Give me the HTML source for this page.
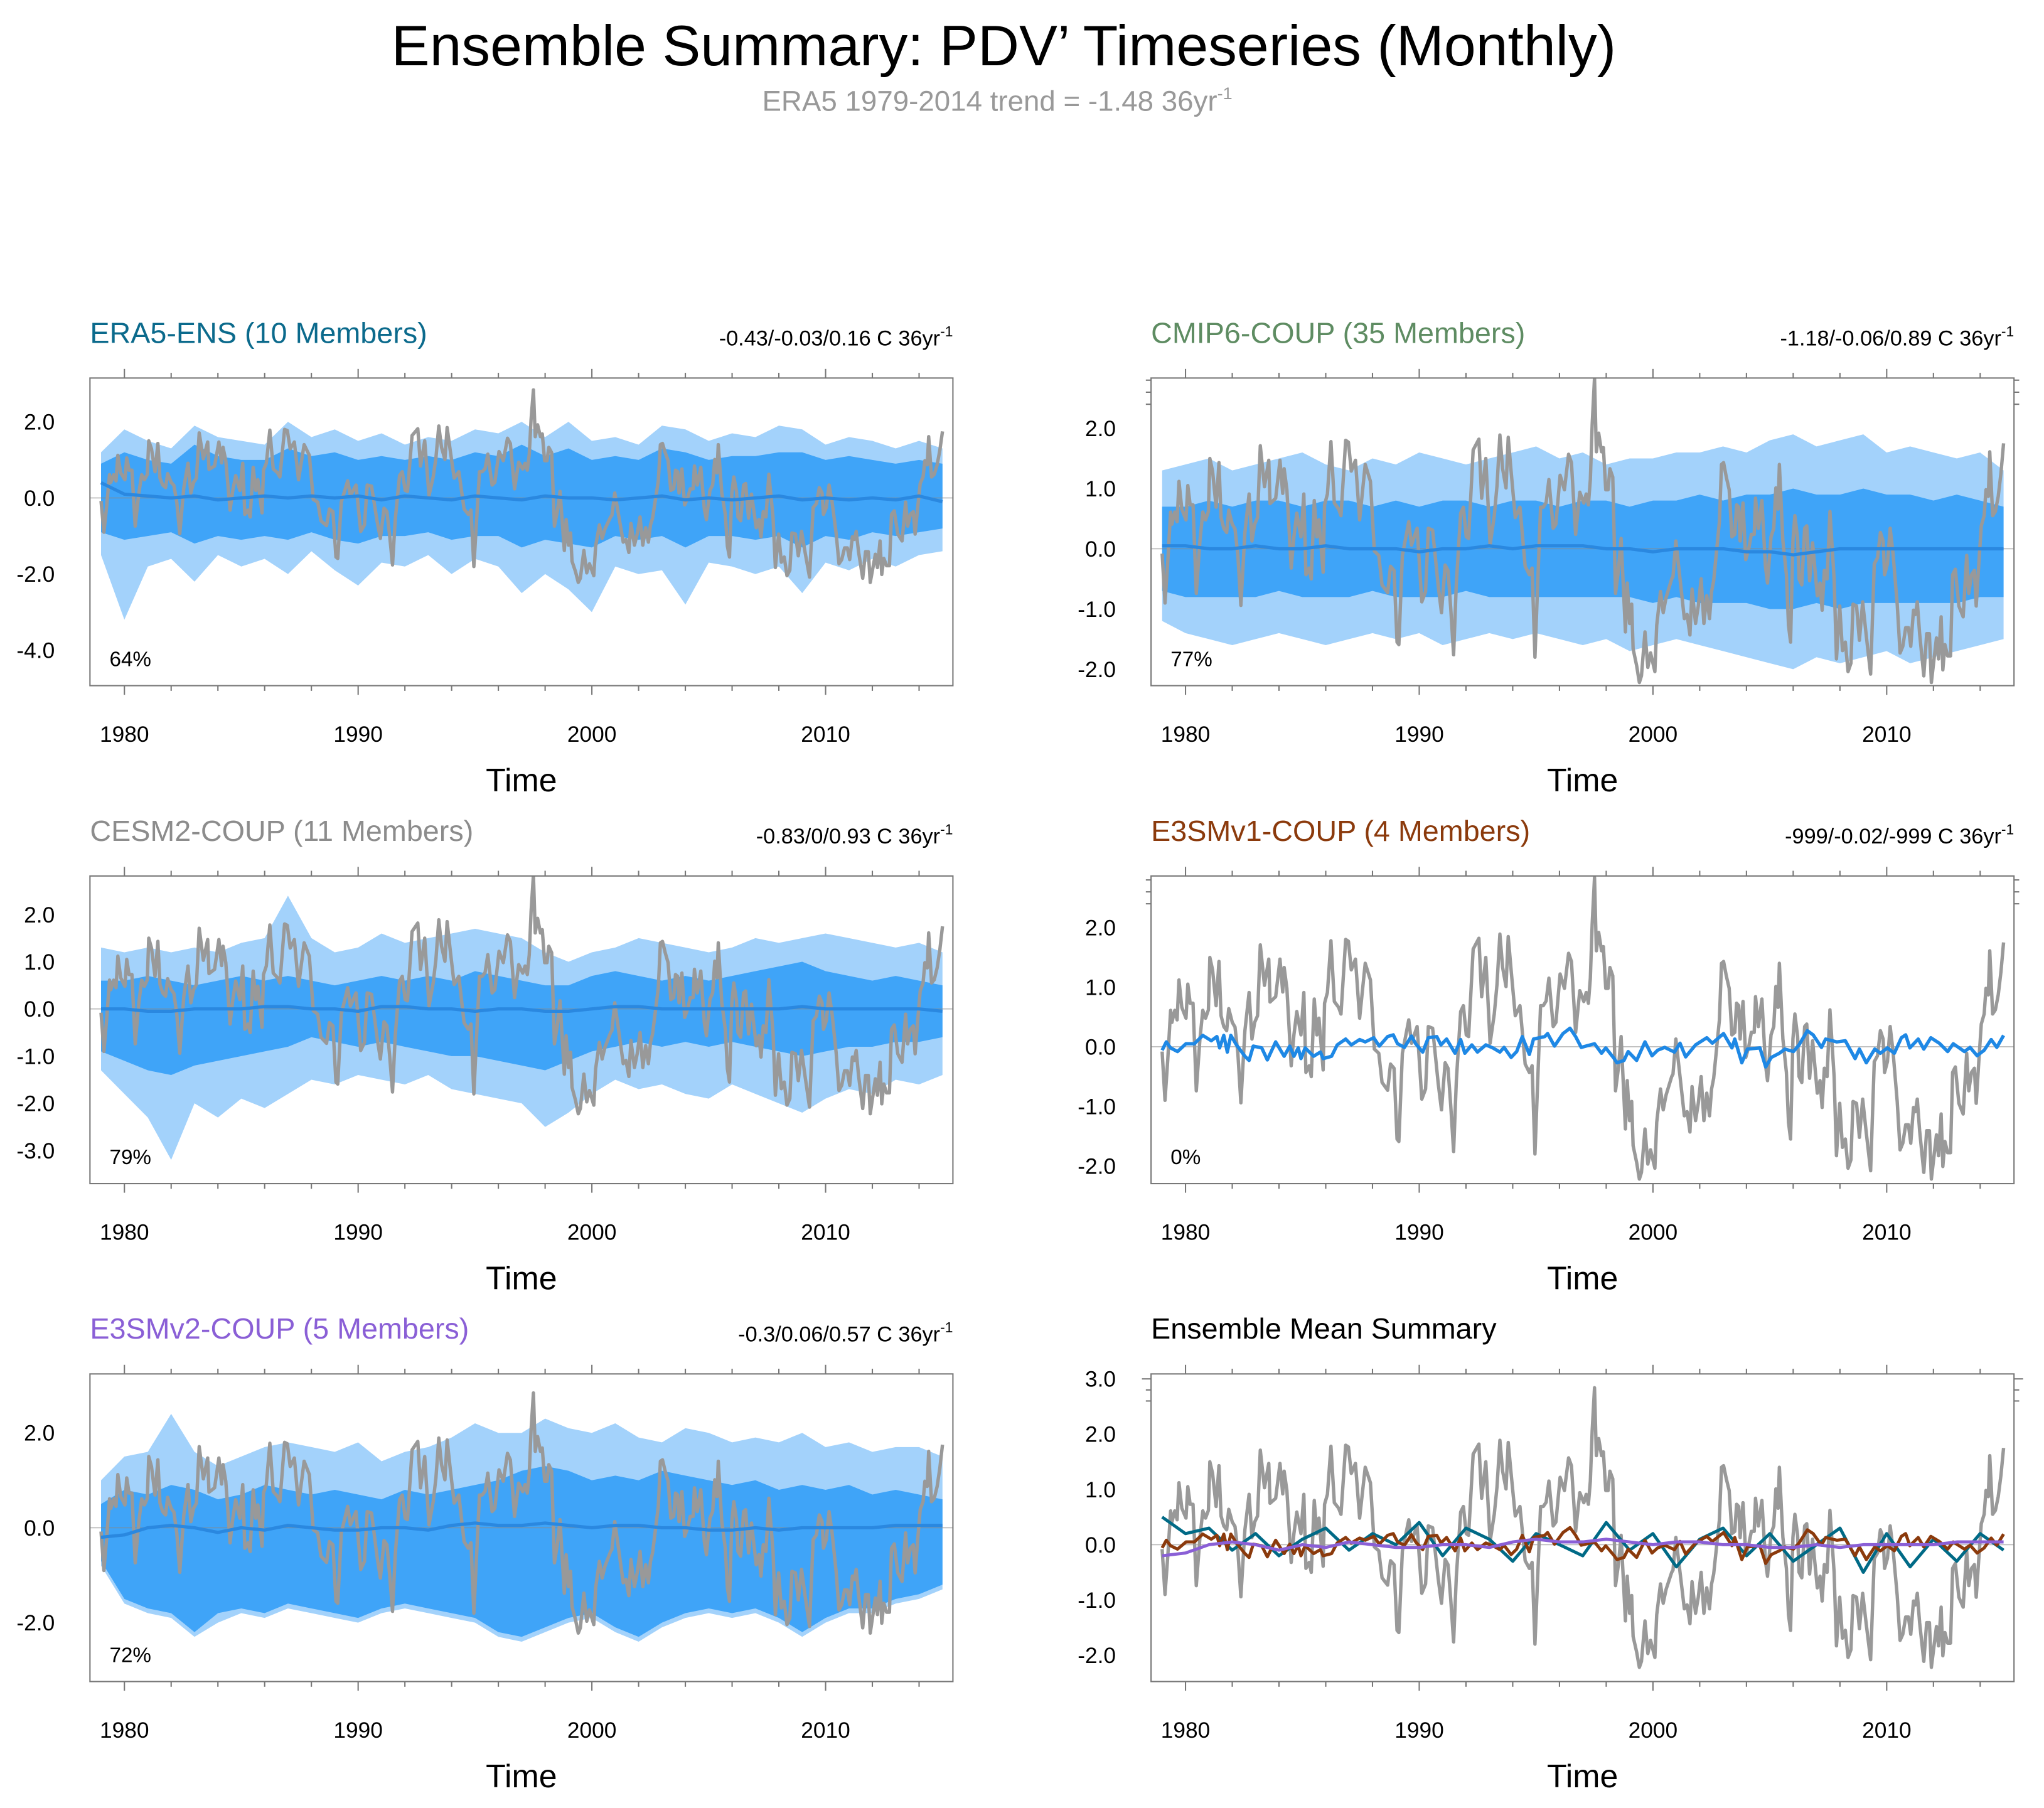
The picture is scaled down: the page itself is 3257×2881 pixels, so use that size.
<!DOCTYPE html>
<html><head><meta charset="utf-8"><style>html,body{margin:0;padding:0;background:#fff}svg{display:block}</style></head>
<body>
<svg id="fig" xmlns="http://www.w3.org/2000/svg" width="3257" height="2881" viewBox="0 0 1568 1387" font-family="Liberation Sans, Arial, sans-serif">
<rect width="1568" height="1387" fill="#fff"/>
<text x="770" y="50" font-size="44" text-anchor="middle">Ensemble Summary: PDV’ Timeseries (Monthly)</text>
<text x="765" y="85" font-size="22" fill="#999" text-anchor="middle">ERA5 1979-2014 trend = -1.48 36yr<tspan dy="-9" font-size="13">-1</tspan></text>
</svg>
<script>
// Observed ERA5 PDV series (years, values)
const obsYears=[1979.00,1979.12,1979.24,1979.36,1979.42,1979.54,1979.64,1979.72,1979.84,1980.02,1980.10,1980.20,1980.32,1980.46,1980.62,1980.74,1980.86,1980.98,1981.04,1981.16,1981.31,1981.43,1981.52,1981.64,1981.76,1981.85,1982.00,1982.12,1982.24,1982.37,1982.54,1982.72,1982.84,1982.96,1983.08,1983.20,1983.38,1983.56,1983.62,1983.86,1984.04,1984.16,1984.22,1984.34,1984.52,1984.64,1984.76,1984.94,1985.06,1985.15,1985.29,1985.38,1985.51,1985.62,1985.71,1985.89,1985.95,1986.07,1986.22,1986.37,1986.55,1986.65,1986.85,1986.97,1987.09,1987.27,1987.45,1987.69,1987.91,1988.08,1988.27,1988.41,1988.65,1988.77,1988.92,1989.05,1989.13,1989.28,1989.55,1989.67,1989.91,1990.11,1990.27,1990.39,1990.57,1990.81,1990.95,1991.11,1991.23,1991.35,1991.47,1991.59,1991.77,1991.89,1992.01,1992.11,1992.31,1992.55,1992.67,1992.85,1993.03,1993.21,1993.33,1993.45,1993.57,1993.71,1993.81,1993.93,1994.11,1994.31,1994.53,1994.71,1994.83,1994.95,1995.19,1995.31,1995.43,1995.55,1995.73,1995.85,1996.03,1996.21,1996.39,1996.51,1996.69,1996.87,1997.04,1997.14,1997.24,1997.32,1997.40,1997.50,1997.58,1997.68,1997.80,1997.88,1997.98,1998.08,1998.16,1998.28,1998.40,1998.52,1998.64,1998.82,1998.90,1999.00,1999.09,1999.15,1999.30,1999.42,1999.51,1999.66,1999.78,1999.90,2000.08,2000.16,2000.32,2000.44,2000.56,2000.80,2000.86,2000.98,2001.16,2001.34,2001.46,2001.58,2001.67,2001.82,2001.94,2002.06,2002.18,2002.30,2002.42,2002.51,2002.60,2002.84,2002.93,2003.02,2003.14,2003.26,2003.38,2003.50,2003.58,2003.67,2003.73,2003.85,2003.97,2004.09,2004.21,2004.33,2004.39,2004.51,2004.66,2004.81,2004.90,2005.05,2005.17,2005.26,2005.35,2005.41,2005.56,2005.71,2005.80,2005.89,2005.99,2006.07,2006.19,2006.25,2006.37,2006.49,2006.58,2006.70,2006.83,2007.03,2007.15,2007.24,2007.33,2007.45,2007.57,2007.75,2007.85,2007.99,2008.11,2008.23,2008.35,2008.47,2008.56,2008.71,2008.83,2008.97,2009.13,2009.31,2009.47,2009.61,2009.73,2009.85,2009.91,2010.03,2010.15,2010.27,2010.45,2010.57,2010.69,2010.81,2010.93,2011.03,2011.15,2011.23,2011.31,2011.41,2011.59,2011.71,2011.83,2011.91,2012.13,2012.22,2012.33,2012.40,2012.49,2012.61,2012.73,2012.82,2012.94,2013.09,2013.27,2013.42,2013.51,2013.63,2013.75,2013.83,2013.95,2014.05,2014.17,2014.25,2014.35,2014.41,2014.53,2014.65,2014.77,2014.89,2015.00];
const obsValues=[-0.08,-0.90,-0.22,0.61,0.41,0.61,0.45,1.12,0.66,0.48,1.05,0.73,0.73,-0.74,0.13,0.61,0.48,0.62,1.50,1.29,0.69,1.43,0.52,0.34,0.27,0.64,0.41,0.33,-0.11,-0.94,0.27,0.91,0.13,0.41,0.52,1.71,1.03,1.47,0.75,0.84,1.47,0.92,1.33,0.98,-0.32,0.20,0.59,0.20,0.91,-0.43,-0.32,-0.50,0.80,0.20,0.48,-0.39,0.73,0.91,1.78,0.76,0.66,0.55,1.80,1.77,1.29,1.47,0.48,1.40,1.12,-0.04,-0.11,-0.60,-0.73,-0.29,-0.36,-1.55,-1.59,-0.11,0.45,0.06,0.34,-0.88,-0.71,0.34,0.31,-0.62,-1.06,-0.27,-0.36,-0.99,-1.76,-0.57,0.59,0.69,0.20,0.17,1.64,1.82,0.84,1.50,0.06,0.55,1.05,1.89,1.33,1.01,1.85,1.29,0.52,0.69,-0.29,-0.43,-0.32,-1.80,0.69,0.69,0.77,1.15,0.34,0.41,1.22,0.98,1.57,1.43,0.24,0.94,0.76,0.91,0.73,1.15,2.06,2.84,1.61,1.92,1.61,1.68,0.98,0.98,1.33,1.19,-0.74,-0.36,0.17,-1.38,-0.57,-1.24,-0.92,-1.66,-1.94,-2.22,-2.11,-1.38,-1.97,-1.73,-2.04,-1.27,-0.71,-1.06,-0.81,-0.50,-0.46,0.13,-0.50,-1.16,-1.09,-1.43,-0.67,-1.24,-0.95,-0.50,-1.24,-0.78,-1.16,-0.71,-0.53,0.45,1.40,1.43,1.19,0.98,0.20,0.24,0.73,0.69,0.13,0.76,-0.18,-0.01,0.24,0.24,0.84,0.34,0.80,-0.29,-0.57,0.20,0.34,1.01,0.66,1.40,0.13,-0.43,-1.27,-1.55,0.13,0.55,0.17,-0.50,-0.60,0.34,0.38,-0.53,0.10,-0.78,-0.57,-1.02,-0.36,-0.50,0.62,-0.50,-1.83,-0.95,-1.69,-1.55,-2.04,-1.90,-0.92,-0.95,-1.52,-0.88,-1.45,-2.08,-0.25,-0.15,0.27,0.13,-0.43,-0.25,0.34,-0.08,-0.92,-1.73,-1.62,-1.31,-1.31,-1.62,-1.02,-1.09,-0.88,-1.41,-2.11,-1.41,-1.41,-2.22,-1.48,-1.83,-1.13,-2.01,-1.59,-1.78,-1.78,-0.43,-0.34,-0.95,-1.13,-0.11,-0.74,-0.43,-0.36,-0.95,-0.18,0.38,0.55,0.98,0.87,1.61,0.55,0.62,0.87,1.26,1.75];

// E3SMv1 ensemble mean
const e3v1Years=[1979.00,1979.18,1979.36,1979.66,1980.02,1980.38,1980.74,1981.10,1981.34,1981.46,1981.64,1981.79,1981.94,1982.18,1982.54,1982.72,1982.90,1983.26,1983.50,1983.86,1984.22,1984.46,1984.64,1984.82,1984.94,1985.12,1985.48,1985.77,1985.89,1986.25,1986.49,1986.85,1987.09,1987.45,1987.69,1988.05,1988.29,1988.65,1988.89,1989.07,1989.37,1989.67,1989.85,1990.15,1990.39,1990.75,1990.93,1991.17,1991.53,1991.77,1991.95,1992.25,1992.49,1992.85,1993.15,1993.45,1993.63,1993.93,1994.17,1994.41,1994.71,1994.89,1995.37,1995.49,1995.79,1996.15,1996.45,1996.69,1996.93,1997.50,1997.80,1997.98,1998.34,1998.46,1998.76,1998.94,1999.30,1999.66,1999.96,2000.20,2000.50,2000.92,2001.16,2001.40,2001.82,2002.30,2002.54,2003.02,2003.38,2003.50,2003.80,2004.04,2004.58,2004.82,2005.06,2005.41,2005.65,2006.01,2006.25,2006.61,2006.85,2007.21,2007.39,2007.87,2008.23,2008.65,2008.83,2009.13,2009.49,2009.73,2010.03,2010.33,2010.63,2010.81,2010.99,2011.35,2011.59,2011.89,2012.25,2012.61,2012.85,2013.33,2013.57,2013.87,2014.17,2014.47,2014.71,2015.00];
const e3v1Values=[-0.06,0.08,-0.02,-0.08,0.05,0.05,0.19,0.10,0.17,-0.02,0.19,-0.09,0.19,0.03,-0.16,-0.23,0.01,-0.02,-0.22,0.08,-0.16,0.01,-0.16,-0.02,-0.20,-0.02,-0.16,-0.09,-0.20,-0.16,0.03,0.13,0.03,0.12,0.08,0.15,0.01,0.17,0.20,0.05,-0.01,0.18,0.05,-0.09,0.15,0.17,0.03,0.13,-0.11,0.12,-0.11,0.03,-0.09,0.03,-0.02,-0.09,-0.01,-0.18,-0.08,0.17,-0.13,0.13,0.17,0.22,0.01,0.22,0.31,0.17,-0.01,0.05,-0.11,-0.02,-0.20,-0.27,-0.23,-0.08,-0.23,0.08,-0.15,-0.06,-0.01,-0.09,0.06,-0.17,0.03,0.15,0.06,0.22,-0.02,0.13,-0.27,-0.04,-0.02,-0.34,-0.18,-0.11,-0.04,-0.08,0.03,0.27,0.20,-0.01,0.13,0.08,0.10,-0.20,-0.04,-0.27,-0.04,-0.11,-0.02,-0.11,0.15,0.20,-0.02,0.13,-0.04,0.15,0.06,-0.08,0.05,-0.08,-0.01,-0.15,-0.06,0.12,-0.01,0.19];

// Yearly band summaries (1979..2015)
const bandYears=[1979,1980,1981,1982,1983,1984,1985,1986,1987,1988,1989,1990,1991,1992,1993,1994,1995,1996,1997,1998,1999,2000,2001,2002,2003,2004,2005,2006,2007,2008,2009,2010,2011,2012,2013,2014,2015];
const eraMax=[1.2,1.8,1.5,1.3,1.9,1.6,1.5,1.4,2.0,1.6,1.8,1.5,1.7,1.4,1.6,1.5,1.8,1.7,2.0,1.6,2.0,1.5,1.6,1.4,1.9,1.8,1.5,1.7,1.6,1.9,1.8,1.4,1.6,1.5,1.3,1.5,1.3];
const eraMin=[-1.5,-3.2,-1.8,-1.6,-2.2,-1.5,-1.8,-1.6,-2.0,-1.4,-1.9,-2.3,-1.7,-1.8,-1.5,-2.0,-1.6,-1.8,-2.5,-2.0,-2.4,-3.0,-1.8,-2.0,-1.9,-2.8,-1.7,-1.8,-2.0,-1.8,-2.5,-1.7,-1.9,-1.6,-1.8,-1.5,-1.4];
const eraHi=[0.9,1.2,1.0,0.9,1.4,1.1,1.0,1.0,1.3,1.1,1.2,1.0,1.1,1.0,1.1,1.0,1.2,1.1,1.4,1.1,1.3,1.0,1.1,1.0,1.3,1.2,1.0,1.1,1.1,1.2,1.2,1.0,1.1,1.0,0.9,1.0,0.9];
const eraLo=[-0.9,-1.1,-1.0,-0.9,-1.2,-1.0,-1.1,-1.0,-1.1,-0.9,-1.1,-1.2,-1.0,-1.0,-0.9,-1.1,-1.0,-1.0,-1.3,-1.1,-1.2,-1.3,-1.0,-1.1,-1.0,-1.3,-1.0,-1.0,-1.1,-1.0,-1.3,-1.0,-1.1,-0.9,-1.0,-0.9,-0.8];
const eraBandMean=[0.4,0.1,0.05,0.0,0.05,-0.05,0.0,0.05,0.0,0.05,0.0,0.05,-0.05,0.05,0.0,-0.05,0.05,0.0,-0.05,0.05,0.0,0.0,-0.05,0.0,0.05,-0.05,0.0,-0.05,0.0,0.05,-0.05,0.0,-0.05,0.0,-0.05,0.05,-0.1];
const eraMean=[0.5,0.2,0.3,-0.1,0.2,-0.2,0.1,0.3,-0.1,0.2,0.0,0.4,-0.2,0.3,0.1,-0.3,0.2,0.0,-0.2,0.4,-0.1,0.2,-0.4,0.1,0.3,-0.2,0.2,-0.3,0.0,0.3,-0.5,0.2,-0.4,0.1,-0.3,0.2,-0.1];

const cmipMax=[1.3,1.4,1.5,1.3,1.4,1.5,1.6,1.4,1.3,1.5,1.4,1.6,1.5,1.4,1.5,1.6,1.7,1.5,1.6,1.4,1.5,1.5,1.6,1.6,1.7,1.6,1.8,1.9,1.7,1.8,1.9,1.6,1.7,1.6,1.5,1.6,1.3];
const cmipMin=[-1.2,-1.4,-1.5,-1.6,-1.5,-1.4,-1.5,-1.6,-1.5,-1.4,-1.5,-1.4,-1.6,-1.5,-1.4,-1.5,-1.4,-1.5,-1.6,-1.5,-1.7,-1.6,-1.5,-1.6,-1.7,-1.8,-1.9,-2.0,-1.8,-1.9,-1.8,-1.7,-1.9,-1.8,-1.7,-1.6,-1.5];
const cmipHi=[0.7,0.7,0.8,0.7,0.8,0.8,0.7,0.8,0.8,0.7,0.8,0.7,0.8,0.8,0.7,0.8,0.8,0.7,0.8,0.8,0.7,0.8,0.8,0.9,0.8,0.9,0.9,1.0,0.9,0.9,1.0,0.9,0.9,0.8,0.9,0.8,0.7];
const cmipLo=[-0.7,-0.8,-0.8,-0.8,-0.8,-0.7,-0.8,-0.8,-0.8,-0.7,-0.8,-0.8,-0.8,-0.7,-0.8,-0.8,-0.8,-0.8,-0.8,-0.8,-0.8,-0.9,-0.8,-0.9,-0.9,-0.9,-1.0,-1.0,-0.9,-1.0,-0.9,-0.9,-0.9,-0.9,-0.9,-0.8,-0.8];
const cmipMean=[0.05,0.05,0.0,0.0,0.05,0.0,0.0,0.05,0.0,0.0,0.0,-0.05,0.0,0.0,0.05,0.0,0.05,0.05,0.05,0.0,0.0,-0.05,0.0,0.0,0.0,-0.05,-0.05,-0.1,-0.05,0.0,0.0,0.0,0.0,0.0,0.0,0.0,0.0];

const cesmMax=[1.3,1.2,1.3,1.2,1.3,1.2,1.4,1.5,2.4,1.5,1.2,1.3,1.6,1.4,1.5,1.6,1.7,1.6,1.5,1.2,1.0,1.2,1.3,1.5,1.4,1.3,1.2,1.3,1.5,1.4,1.5,1.6,1.5,1.4,1.3,1.4,1.2];
const cesmMin=[-1.3,-1.8,-2.3,-3.2,-2.0,-2.3,-1.9,-2.1,-1.8,-1.5,-1.6,-1.4,-1.5,-1.6,-1.4,-1.7,-1.8,-1.9,-2.0,-2.5,-2.2,-1.8,-1.5,-1.7,-1.6,-1.8,-1.9,-1.6,-1.8,-2.0,-2.2,-1.9,-1.7,-1.8,-1.5,-1.6,-1.4];
const cesmHi=[0.6,0.6,0.7,0.6,0.5,0.6,0.7,0.6,0.7,0.6,0.5,0.6,0.7,0.6,0.7,0.6,0.8,0.7,0.6,0.5,0.5,0.7,0.8,0.7,0.6,0.7,0.6,0.7,0.8,0.9,1.0,0.8,0.7,0.6,0.7,0.6,0.5];
const cesmLo=[-0.9,-1.1,-1.3,-1.4,-1.2,-1.1,-1.0,-0.9,-0.8,-0.6,-0.7,-0.8,-0.7,-0.8,-0.9,-1.0,-1.0,-1.1,-1.2,-1.3,-1.1,-0.9,-0.8,-0.7,-0.8,-0.7,-0.8,-0.7,-0.8,-0.9,-1.0,-0.9,-0.8,-0.8,-0.7,-0.7,-0.6];
const cesmMean=[0,0,-0.05,-0.05,0,0,0,0.05,0.05,0,0,-0.05,0.05,0.05,0,0,-0.05,0,0,-0.05,-0.05,0,0.05,0.05,0,0,0,0,0,0,0.05,0,0,0,0,0,-0.05];

const e3v2Max=[1.0,1.5,1.6,2.4,1.6,1.3,1.5,1.7,1.8,1.7,1.6,1.8,1.4,1.6,1.7,1.9,2.2,2.0,2.0,2.3,2.1,2.0,2.2,1.9,1.8,2.1,2.0,1.8,1.9,1.8,2.0,1.7,1.8,1.6,1.7,1.7,1.5];
const e3v2Min=[-0.8,-1.6,-1.8,-1.9,-2.3,-2.0,-1.8,-1.9,-1.7,-1.8,-1.9,-2.0,-1.8,-1.7,-1.8,-1.9,-2.0,-2.3,-2.4,-2.2,-2.0,-1.9,-2.2,-2.4,-2.1,-1.9,-1.8,-1.9,-1.8,-2.0,-2.3,-2.0,-1.8,-1.8,-1.6,-1.5,-1.3];
const e3v2Hi=[0.5,0.8,0.7,0.9,0.8,0.6,0.7,0.9,0.8,0.7,0.8,0.7,0.6,0.8,0.7,0.8,0.9,1.0,1.2,1.3,1.2,1.0,1.1,1.0,1.2,1.1,1.0,0.9,1.0,0.8,0.9,0.8,0.9,0.7,0.8,0.7,0.6];
const e3v2Lo=[-0.7,-1.5,-1.7,-1.8,-2.2,-1.8,-1.7,-1.8,-1.6,-1.7,-1.8,-1.9,-1.7,-1.6,-1.7,-1.8,-1.9,-2.2,-2.3,-2.1,-1.9,-1.8,-2.1,-2.3,-2.0,-1.8,-1.7,-1.8,-1.7,-1.9,-2.2,-1.9,-1.7,-1.7,-1.5,-1.4,-1.2];
const e3v2Mean=[-0.2,-0.15,0.0,0.05,0.0,-0.1,0.0,-0.05,0.05,0.0,-0.05,-0.05,0.0,0.0,-0.05,0.05,0.1,0.05,0.05,0.1,0.05,0.0,0.05,0.05,0.0,0.0,-0.05,-0.05,0.0,-0.05,0.0,0.0,0.0,0.0,0.05,0.05,0.05];

const xTickLabels=[1980,1990,2000,2010];

const NS="http://www.w3.org/2000/svg";
const svg=document.getElementById('fig');
function mk(tag,attrs,parent){const e=document.createElementNS(NS,tag);for(const k in attrs)e.setAttribute(k,attrs[k]);(parent||svg).appendChild(e);return e;}

const LIGHT="#a3d2fb", MED="#3fa4f8", MEANC="#2a88e0", GRAY="#999999";

function panel(cfg,idx){
  const g=mk('g',{});
  
  
  const L=cfg.x, R=cfg.x+662, T=cfg.y, B=cfg.y+236;
  const xs=t=>L+8.5+(t-1979)*17.93;
  const ys=v=>cfg.y0-v*cfg.ppu;
  const cid='clip'+idx;
  const cp=mk('clipPath',{id:cid},g);mk('rect',{x:L,y:T,width:662,height:236},cp);
  const plot=mk('g',{'clip-path':'url(#'+cid+')'},g);
  function band(hi,lo,col,nm){
    let d='';bandYears.forEach((t,i)=>{d+=(i?'L':'M')+xs(t).toFixed(1)+','+ys(hi[i]).toFixed(1);});
    for(let i=bandYears.length-1;i>=0;i--)d+='L'+xs(bandYears[i]).toFixed(1)+','+ys(lo[i]).toFixed(1);
    const p=mk('path',{d:d+'Z',fill:col,stroke:'none'},plot);
    
    
  }
  function line(xa,va,col,w,nm){
    const d=xa.map((t,i)=>(i?'L':'M')+xs(t).toFixed(1)+','+ys(va[i]).toFixed(1)).join('');
    const p=mk('path',{d:d,fill:'none',stroke:col,'stroke-width':w,'stroke-linejoin':'round'},plot);
    
    
  }
  if(cfg.bands){band(cfg.bands[0],cfg.bands[1],LIGHT,'range-band');band(cfg.bands[2],cfg.bands[3],MED,'spread-band');}
  const z=mk('line',{x1:L,x2:R,y1:ys(0),y2:ys(0),stroke:'#888','stroke-width':0.8,opacity:0.6},plot);
  
  
  line(obsYears,obsValues,GRAY,2.6,'era5-observed-line');
  if(cfg.lines)cfg.lines.forEach(l=>line(l[0],l[1],l[2],l[3],l[4]));
  const fr=mk('rect',{x:L,y:T,width:662,height:236,fill:'none',stroke:'#777','stroke-width':1},g);
  
  
  for(let yr=1980;yr<=2014;yr+=2){
    const X=xs(yr), major=(yr%10===0), len=major?7:4;
    mk('line',{x1:X,x2:X,y1:B,y2:B+len,stroke:'#777','stroke-width':1},g);
    mk('line',{x1:X,x2:X,y1:T,y2:T-len,stroke:'#777','stroke-width':1},g);
  }
  xTickLabels.forEach(v=>{const t=mk('text',{x:xs(v),y:B+43,'font-size':17,'text-anchor':'middle'},g);t.textContent=v;
    
    });
  const vmin=(cfg.y0-B)/cfg.ppu*-1, vmax=(cfg.y0-T)/cfg.ppu;
  for(let k=Math.ceil(vmin/cfg.minor-1e-6);k*cfg.minor<=vmax+1e-6;k++){
    const v=k*cfg.minor, Y=ys(v);
    const isMaj=Math.abs(v/cfg.major-Math.round(v/cfg.major))<1e-6;
    const len=isMaj?7:4;
    mk('line',{x1:L,x2:L-len,y1:Y,y2:Y,stroke:'#777','stroke-width':1},g);
    mk('line',{x1:R,x2:R+len,y1:Y,y2:Y,stroke:'#777','stroke-width':1},g);
  }
  cfg.yLabels.forEach(v=>{const t=mk('text',{x:L-27,y:ys(v)+6,'font-size':17,'text-anchor':'end'},g);t.textContent=v.toFixed(1);
    
    });
  const xt=mk('text',{x:L+331,y:B+81,'font-size':25,'text-anchor':'middle'},g);xt.textContent='Time';
  
  
  const tt=mk('text',{x:L,y:T-27,'font-size':22.5,fill:cfg.tcol},g);tt.textContent=cfg.title;
  
  
  if(cfg.right){const rt=mk('text',{x:R,y:T-25,'font-size':16.5,'text-anchor':'end'},g);rt.textContent=cfg.right;
    const sp=mk('tspan',{dy:-7,'font-size':11},rt);sp.textContent='-1';
    
    }
  if(cfg.pct){const pt=mk('text',{x:L+15,y:B-15,'font-size':16},g);pt.textContent=cfg.pct;
    
    }
}

panel({name:'era5-ens-panel',x:69,y:290,y0:382,ppu:29.2,major:2,minor:0.5,yLabels:[2,0,-2,-4],title:'ERA5-ENS (10 Members)',tcol:'#0b6a8c',right:'-0.43/-0.03/0.16 C 36yr',pct:'64%',
  bands:[eraMax,eraMin,eraHi,eraLo],lines:[[bandYears,eraBandMean,MEANC,2.5,'ensemble-mean-line']]},0);
panel({name:'cmip6-coup-panel',x:883,y:290,y0:421,ppu:46.2,major:1,minor:0.2,yLabels:[2,1,0,-1,-2],title:'CMIP6-COUP (35 Members)',tcol:'#5e8c62',right:'-1.18/-0.06/0.89 C 36yr',pct:'77%',
  bands:[cmipMax,cmipMin,cmipHi,cmipLo],lines:[[bandYears,cmipMean,MEANC,2.5,'ensemble-mean-line']]},1);
panel({name:'cesm2-coup-panel',x:69,y:672,y0:774,ppu:36.2,major:1,minor:0.2,yLabels:[2,1,0,-1,-2,-3],title:'CESM2-COUP (11 Members)',tcol:'#8c8c8c',right:'-0.83/0/0.93 C 36yr',pct:'79%',
  bands:[cesmMax,cesmMin,cesmHi,cesmLo],lines:[[bandYears,cesmMean,MEANC,2.5,'ensemble-mean-line']]},2);
panel({name:'e3smv1-coup-panel',x:883,y:672,y0:803,ppu:45.7,major:1,minor:0.2,yLabels:[2,1,0,-1,-2],title:'E3SMv1-COUP (4 Members)',tcol:'#8b3a0c',right:'-999/-0.02/-999 C 36yr',pct:'0%',
  lines:[[e3v1Years,e3v1Values,'#1e88e5',2.6,'ensemble-mean-line']]},3);
panel({name:'e3smv2-coup-panel',x:69,y:1054,y0:1172,ppu:36.4,major:2,minor:0.5,yLabels:[2,0,-2],title:'E3SMv2-COUP (5 Members)',tcol:'#8a5fd6',right:'-0.3/0.06/0.57 C 36yr',pct:'72%',
  bands:[e3v2Max,e3v2Min,e3v2Hi,e3v2Lo],lines:[[bandYears,e3v2Mean,MEANC,2.5,'ensemble-mean-line']]},4);
panel({name:'ensemble-mean-summary-panel',x:883,y:1054,y0:1185,ppu:42.4,major:1,minor:0.2,yLabels:[3,2,1,0,-1,-2],title:'Ensemble Mean Summary',tcol:'#000',
  lines:[[bandYears,eraMean,'#006a86',2.4,'era5-ens-mean-line'],[e3v1Years,e3v1Values,'#8b3a0c',2.4,'e3smv1-mean-line'],[bandYears,e3v2Mean,'#8a5fd6',2.4,'e3smv2-mean-line']]},5);
</script>
</body></html>
